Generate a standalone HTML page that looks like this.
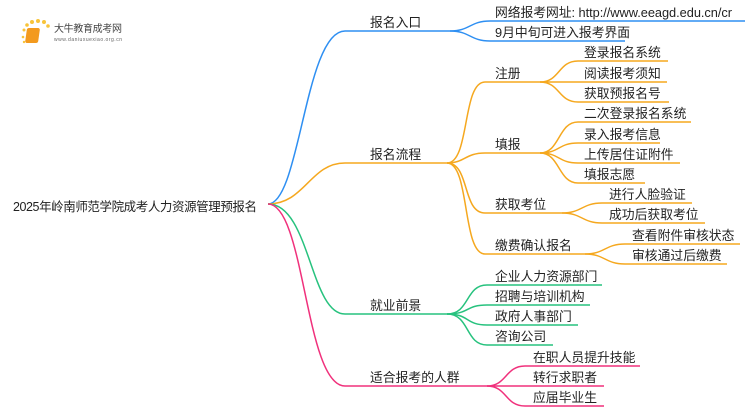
<!DOCTYPE html>
<html><head><meta charset="utf-8"><style>
html,body{margin:0;padding:0;background:#fff;width:750px;height:410px;overflow:hidden}
text{font-family:"Liberation Sans","Noto Sans CJK SC",sans-serif;font-size:12.8px;fill:#222}
</style></head><body>
<svg width="750" height="410" viewBox="0 0 750 410" xmlns="http://www.w3.org/2000/svg">
<g>
<circle cx="24" cy="30" r="1.5" fill="#f8c43a"/><circle cx="27" cy="25" r="1.8" fill="#f8c43a"/>
<circle cx="32" cy="22" r="2" fill="#f8c43a"/><circle cx="38" cy="21" r="2" fill="#f8c43a"/>
<circle cx="44" cy="22" r="2" fill="#f8c43a"/><circle cx="48" cy="26" r="1.8" fill="#f8c43a"/>
<circle cx="23" cy="37" r="1.3" fill="#f8c43a"/><circle cx="24" cy="42" r="1.2" fill="#f8c43a"/>
<rect x="31" y="28" width="13" height="15" rx="2" fill="#f39a1e" transform="skewX(-8)"/>
<text x="54" y="32" style="font-size:10px;fill:#444" textLength="68">大牛教育成考网</text>
<text x="54" y="41" style="font-size:5px;fill:#666" textLength="68">www.daniuxuexiao.org.cn</text>
</g>
<text x="13" y="211" style="font-size:12.5px" textLength="244">2025年岭南师范学院成考人力资源管理预报名</text>
<g fill="none" stroke-width="1.5">
<g stroke="#2e8ff2">
<path d="M268,204 C300,204 305,31 345,31 L450,31"/>
<path d="M450,31 C470,31 470,21 490,21 L745,21"/>
<path d="M450,31 C470,31 470,41 490,41 L625,41"/>
</g>
<g stroke="#f5a81f">
<path d="M268,204 C305,204 310,163 345,163 L447,163"/>
<path d="M447,163 C470,163 462,82 485,82 L540,82"/>
<path d="M447,163 C465,163 465,153 485,153 L540,153"/>
<path d="M447,163 C470,163 462,213 485,213 L562,213"/>
<path d="M447,163 C470,163 462,254 485,254 L585,254"/>
<path d="M540,82 C560,82 558,61 578,61 L668,61"/>
<path d="M540,82 L667,82"/>
<path d="M540,82 C560,82 558,102 578,102 L669,102"/>
<path d="M540,153 C560,153 558,122 578,122 L691,122"/>
<path d="M540,153 C560,153 558,143 578,143 L660,143"/>
<path d="M540,153 C560,153 558,163 578,163 L680,163"/>
<path d="M540,153 C560,153 558,183 578,183 L645,183"/>
<path d="M562,213 C582,213 582,203 602,203 L692,203"/>
<path d="M562,213 C582,213 582,223 602,223 L705,223"/>
<path d="M585,254 C605,254 605,244 625,244 L740,244"/>
<path d="M585,254 C605,254 605,264 625,264 L727,264"/>
</g>
<g stroke="#27c27e">
<path d="M268,204 C310,204 310,314 345,314 L447,314"/>
<path d="M447,314 C470,314 465,285 487,285 L602,285"/>
<path d="M447,314 C470,314 465,305 487,305 L590,305"/>
<path d="M447,314 C470,314 465,325 487,325 L578,325"/>
<path d="M447,314 C470,314 465,345 487,345 L553,345"/>
</g>
<g stroke="#f0317c">
<path d="M268,204 C305,204 305,386 345,386 L487,386"/>
<path d="M487,386 C507,386 505,366 525,366 L640,366"/>
<path d="M487,386 L604,386"/>
<path d="M487,386 C507,386 505,406 525,406 L604,406"/>
</g>
</g>
<text x="370" y="27">报名入口</text>
<text x="495" y="17" textLength="237">网络报考网址: http://www.eeagd.edu.cn/cr</text>
<text x="495" y="37">9月中旬可进入报考界面</text>
<text x="370" y="159">报名流程</text>
<text x="495" y="78">注册</text>
<text x="584" y="57">登录报名系统</text>
<text x="584" y="78">阅读报考须知</text>
<text x="584" y="98">获取预报名号</text>
<text x="495" y="149">填报</text>
<text x="584" y="118">二次登录报名系统</text>
<text x="584" y="139">录入报考信息</text>
<text x="584" y="159">上传居住证附件</text>
<text x="584" y="179">填报志愿</text>
<text x="495" y="209">获取考位</text>
<text x="609" y="199">进行人脸验证</text>
<text x="609" y="219">成功后获取考位</text>
<text x="495" y="250">缴费确认报名</text>
<text x="632" y="240">查看附件审核状态</text>
<text x="632" y="260">审核通过后缴费</text>
<text x="370" y="310">就业前景</text>
<text x="495" y="281">企业人力资源部门</text>
<text x="495" y="301">招聘与培训机构</text>
<text x="495" y="321">政府人事部门</text>
<text x="495" y="341">咨询公司</text>
<text x="370" y="382">适合报考的人群</text>
<text x="533" y="362">在职人员提升技能</text>
<text x="533" y="382">转行求职者</text>
<text x="533" y="402">应届毕业生</text>
</svg>
</body></html>
